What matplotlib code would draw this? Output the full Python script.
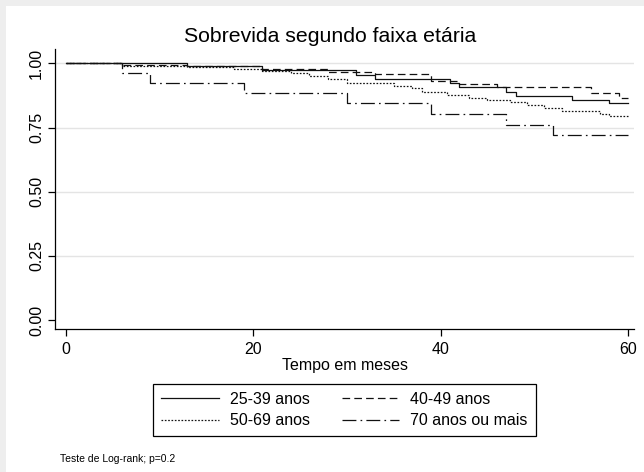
import matplotlib
matplotlib.use("Agg")
import matplotlib.pyplot as plt
from matplotlib.patches import Rectangle

plt.rcParams['font.family'] = ['Liberation Sans', 'DejaVu Sans']
plt.rcParams['lines.scale_dashes'] = False

# ---- data ----
t_25_39 = [0, 13, 21, 31, 33, 41, 42, 47, 48, 54, 58, 60]
s_25_39 = [1.0, 0.990, 0.973, 0.954, 0.938, 0.922, 0.907, 0.889, 0.874, 0.857, 0.844, 0.844]

t_40_49 = [0, 6, 13, 21, 28, 33, 39, 42, 46, 56, 59, 60]
s_40_49 = [1.0, 0.994, 0.990, 0.980, 0.967, 0.957, 0.930, 0.918, 0.909, 0.886, 0.864, 0.864]

t_50_69 = [0, 6, 13, 18, 21, 24, 26, 28, 30, 35, 37, 38, 40.7, 43, 45, 47.4, 49.2, 51, 53, 57, 58, 60]
s_50_69 = [1.0, 0.990, 0.984, 0.977, 0.972, 0.961, 0.952, 0.939, 0.922, 0.913, 0.903, 0.887,
           0.877, 0.866, 0.857, 0.850, 0.838, 0.825, 0.815, 0.803, 0.796, 0.796]

t_70 = [0, 6, 9, 19, 30, 39, 47, 52, 60]
s_70 = [1.0, 0.961, 0.922, 0.883, 0.844, 0.803, 0.761, 0.720, 0.720]

labels = ["25-39 anos", "40-49 anos", "50-69 anos", "70 anos ou mais"]
x_ticks = [0, 20, 40, 60]
y_ticks = [0.0, 0.25, 0.5, 0.75, 1.0]
title = "Sobrevida segundo faixa etária"
xlabel = "Tempo em meses"
note = "Teste de Log-rank; p=0.2"

W, H = 644, 472
fig = plt.figure(figsize=(W / 100, H / 100), dpi=100)
fig.patch.set_facecolor('#eeeeee')
fig.patches.append(Rectangle((6 / W, 0), 1, 1 - 6 / H, transform=fig.transFigure,
                             facecolor='white', edgecolor='none', zorder=-10))

ax = fig.add_axes([55 / W, 1 - 329 / H, 579 / W, 280 / H])
ax.set_zorder(2)
ax.set_facecolor('white')

lw = 0.9
col = '#111111'
h1, = ax.step(t_25_39, s_25_39, where='post', color=col, lw=lw, linestyle='-', label=labels[0])
h2, = ax.step(t_40_49, s_40_49, where='post', color=col, lw=lw, linestyle=(0, (5.5, 3.0)), label=labels[1])
h3, = ax.step(t_50_69, s_50_69, where='post', color=col, lw=lw, linestyle=(0, (1.2, 1.2)), label=labels[2])
h4, = ax.step(t_70, s_70, where='post', color=col, lw=lw, linestyle=(0, (10, 3, 1.2, 3)), label=labels[3])

ax.set_xlim(-1.12, 60.64)
ax.set_ylim(-0.035, 1.056)
ax.set_xticks(x_ticks)
ax.set_yticks(y_ticks)
ax.set_yticklabels([f"{v:.2f}" for v in y_ticks], rotation=90, va='center')
for g in [0.25, 0.5, 0.75, 1.0]:
    ax.axhline(g, color='#e4e4e4', lw=1.0, zorder=0)

for s in ['top', 'right']:
    ax.spines[s].set_visible(False)
for s in ['left', 'bottom']:
    ax.spines[s].set_linewidth(0.9)
    ax.spines[s].set_color('black')
ax.tick_params(axis='both', direction='out', length=5, width=0.9, labelsize=11.5, colors='black')
ax.tick_params(axis='x', pad=4)
ax.tick_params(axis='y', pad=3)

ax.set_xlabel(xlabel, fontsize=11.5, labelpad=1)
fig.text(330 / W, 1 - 37 / H, title, ha='center', va='center', fontsize=15.3)

leg = fig.legend([h1, h3, h2, h4], [labels[0], labels[2], labels[1], labels[3]],
                 loc='center', bbox_to_anchor=(344.5 / W, 1 - 410 / H), ncol=2,
                 fontsize=11.5, frameon=True, fancybox=False, shadow=False, framealpha=1,
                 edgecolor='black', handlelength=3.6, handletextpad=0.7, columnspacing=2.0,
                 borderpad=0.5, labelspacing=0.4, borderaxespad=0)
leg.get_frame().set_linewidth(0.9)
leg.set_zorder(3)

fig.text(60 / W, 1 - 459 / H, note, ha='left', va='center', fontsize=7.5)

fig.savefig("out.png", dpi=100, facecolor=fig.get_facecolor())
